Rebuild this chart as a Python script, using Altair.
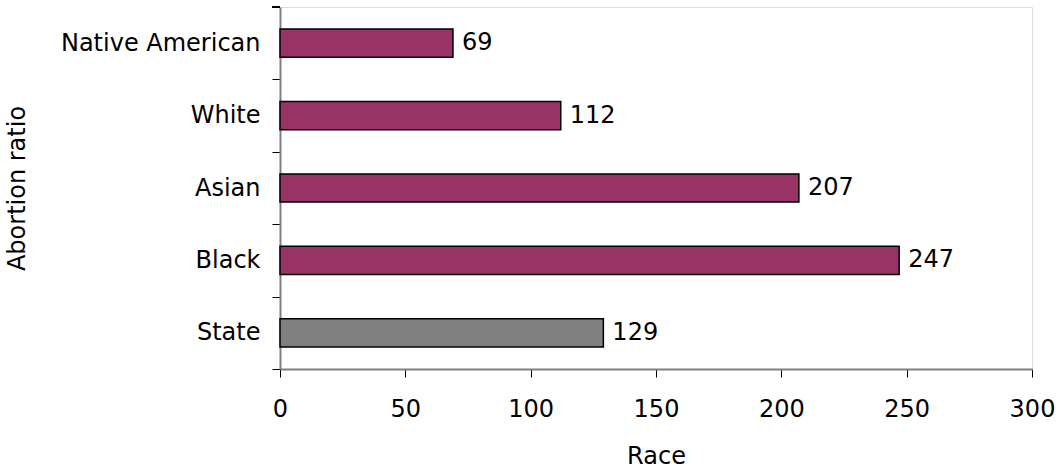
import altair as alt
import pandas as pd

# Abortion ratio by race
races = ["Native American", "White", "Asian", "Black", "State"]
ratios = [69, 112, 207, 247, 129]
groups = ["race", "race", "race", "race", "state"]

df = pd.DataFrame({"race": races, "ratio": ratios, "group": groups})

FONT = "DejaVu Sans"
FS = 24
STEP = 362 / len(races)

y_enc = alt.Y(
    "race:N",
    sort=races,
    title="Abortion ratio",
    scale=alt.Scale(paddingInner=0.61, paddingOuter=0.305),
    axis=alt.Axis(
        domainColor="#808080",
        domainWidth=2,
        tickColor="#000000",
        tickWidth=1,
        tickSize=8,
        tickOffset=STEP / 2,
        labelOffset=-STEP / 2,
        labelPadding=12,
        labelLimit=0,
        labelFont=FONT,
        labelFontSize=FS,
        labelColor="#000000",
        titleFont=FONT,
        titleFontSize=FS,
        titleFontWeight="normal",
        titleColor="#000000",
        titleAngle=-90,
        titleBaseline="middle",
        titleX=-263,
        titleY=181,
    ),
)

x_enc = alt.X(
    "ratio:Q",
    title="Race",
    scale=alt.Scale(domain=[0, 300], nice=False),
    axis=alt.Axis(
        values=[0, 50, 100, 150, 200, 250, 300],
        grid=False,
        domainColor="#808080",
        domainWidth=2,
        tickColor="#000000",
        tickSize=8,
        labelPadding=20,
        labelFont=FONT,
        labelFontSize=FS,
        labelColor="#000000",
        labelFlush=False,
        titleFont=FONT,
        titleFontSize=FS,
        titleFontWeight="normal",
        titleColor="#000000",
        titleBaseline="middle",
        titleY=87,
    ),
)

bars = alt.Chart(df).mark_bar(stroke="#000000", strokeWidth=1.5).encode(
    y=y_enc,
    x=x_enc,
    color=alt.Color(
        "group:N",
        scale=alt.Scale(domain=["race", "state"], range=["#993366", "#808080"]),
        legend=None,
    ),
)

labels = alt.Chart(df).mark_text(
    align="left", baseline="middle", dx=9, font=FONT, fontSize=FS, color="#000000"
).encode(
    y=alt.Y("race:N", sort=races),
    x=alt.X("ratio:Q"),
    text=alt.Text("ratio:Q"),
)

# tick at the top end of the category axis
top_tick = alt.Chart(df).mark_rule(color="#000000", strokeWidth=1).encode(
    x=alt.value(-8), x2=alt.value(0), y=alt.value(0)
)

chart = (
    alt.layer(bars, labels, top_tick)
    .properties(
        width=752,
        height=362,
        autosize=alt.AutoSizeParams(type="none"),
        padding={"left": 280, "top": 7, "right": 27, "bottom": 99},
    )
    .configure_view(stroke=None)
    .configure(background="#ffffff")
)

chart.save("out.html", embed_options={"renderer": "svg", "actions": False})
